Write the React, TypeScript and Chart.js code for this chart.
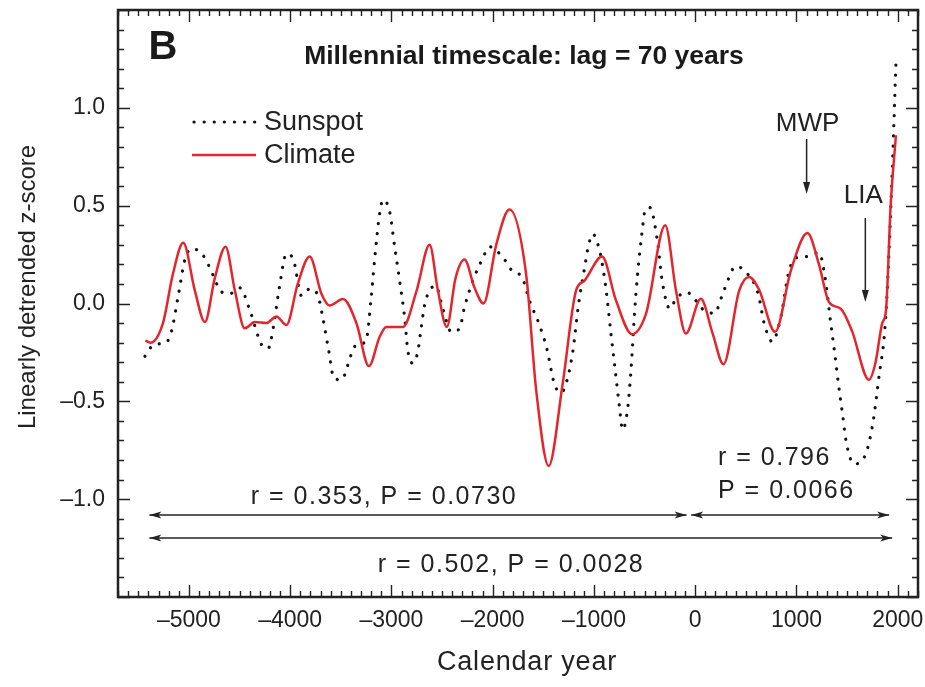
import React, { useEffect, useRef } from 'react';
import { Chart, registerables } from 'chart.js';

Chart.register(...registerables);

// ---------- data ----------
const climateYears = [
  -5430, -5380, -5256, -5158, -5056, -4941, -4842, -4744, -4638, -4546, -4448, -4349, -4234, -4135, -4037,
  -3925, -3807, -3691, -3610, -3478, -3346, -3222, -3116, -3050, -2887, -2751, -2623, -2541, -2453, -2367,
  -2278, -2179, -2091, -1965, -1834, -1670, -1571, -1447, -1309, -1177, -1095, -920, -782, -624, -486,
  -296, -190, -92, 56, 170, 279, 434, 533, 631, 789, 944, 1108, 1222, 1321, 1437, 1548, 1716, 1781, 1847,
  1884, 1930, 1982,
];
const climateValues = [
  -0.19, -0.2, -0.1, 0.15, 0.31, 0.066, -0.095, 0.13, 0.29, 0.066, -0.127, -0.095, -0.1, -0.066, -0.11,
  0.1, 0.24, 0.05, -0.01, 0.023, -0.1, -0.32, -0.17, -0.12, -0.12, 0.066, 0.3, 0.066, -0.12, 0.13,
  0.225, 0.08, 0.0, 0.3, 0.48, 0.15, -0.44, -0.83, -0.41, 0.066, 0.116, 0.24, 0.015, -0.157, -0.052,
  0.4, 0.066, -0.153, 0.024, -0.15, -0.31, 0.066, 0.136, 0.07, -0.145, 0.167, 0.36, 0.2, 0.007, -0.027, -0.14, -0.39, -0.3, -0.1,
  -0.035, 0.5, 0.86,
];

const sunspotYears = [
  -5434, -5345, -5227, -5171, -5105, -5039, -4974, -4865, -4744, -4694, -4596, -4497, -4398, -4283, -4218,
  -4162, -4109, -4036, -3965, -3889, -3807, -3725, -3675, -3616, -3570, -3494, -3396, -3346, -3254, -3198,
  -3166, -3116, -3083, -3018, -2968, -2919, -2870, -2837, -2788, -2739, -2705, -2673, -2623, -2564, -2492,
  -2409, -2327, -2278, -2196, -2104, -2031, -1884, -1808, -1709, -1637, -1538, -1466, -1391, -1325, -1282,
  -1210, -1151, -1095, -1052, -1013, -940, -881, -831, -789, -750, -717, -668, -634, -602, -569,
  -526, -493, -447, -371, -329, -250, -190, -86, 89, 187, 286, 401, 506, 624, 680,
  762, 845, 927, 999, 1098, 1223, 1282, 1338, 1381, 1414, 1453, 1492, 1568, 1683, 1755,
  1808, 1881, 1940, 1982,
];
const sunspotValues = [
  -0.27, -0.21, -0.2, -0.14, 0.04, 0.225, 0.28, 0.25, 0.125, 0.066, 0.05, 0.08, -0.035, -0.21, -0.23,
  -0.11, 0.074, 0.254, 0.22, 0.04, 0.075, 0.04, -0.08, -0.25, -0.38, -0.39, -0.26, -0.21, -0.195, 0.04,
  0.225, 0.46, 0.53, 0.47, 0.29, 0.116, -0.07, -0.245, -0.305, -0.245, -0.12, -0.01, 0.066, 0.09, -0.027,
  -0.145, -0.128, -0.018, 0.116, 0.225, 0.29, 0.225, 0.167, 0.133, 0.015, -0.11, -0.23, -0.41, -0.456, -0.42,
  -0.25, 0.0, 0.175, 0.3, 0.355, 0.26, 0.074, -0.16, -0.347, -0.52, -0.645, -0.54, -0.34, -0.07, 0.15,
  0.36, 0.48, 0.49, 0.31, 0.125, -0.027, 0.024, 0.057, -0.035, -0.05, 0.07, 0.19, 0.158, 0.045, -0.1,
  -0.195, -0.07, 0.167, 0.234, 0.24, 0.26, 0.133, -0.1, -0.27, -0.41, -0.56, -0.71, -0.82, -0.77, -0.61,
  -0.4, -0.07, 0.6, 1.23,
];

const xTickLabels = [-5000, -4000, -3000, -2000, -1000, 0, 1000, 2000];
const yTickLabels = [-1.0, -0.5, 0.0, 0.5, 1.0];
const xLimits = [-5700, 2200];
const yLimits = [-1.5, 1.5];

// annotation spans (years) and text
const fullSpan = [-5390, 1945];
const earlySpan = [-5390, -85];
const lateSpan = [-40, 1915];
const earlyText = 'r = 0.353, P = 0.0730';
const fullText = 'r = 0.502, P = 0.0028';
const lateText = ['r = 0.796', 'P = 0.0066'];
const mwpYear = 1100;
const liaYear = 1680;

const RED = '#e3262d';
const INK = '#222222';
const FONT = "'Liberation Sans', Arial, Helvetica, sans-serif";

const fmt = (v: number, digits: number) => {
  const s = Math.abs(v).toFixed(digits);
  return v < 0 ? '\u2013' + s : s;
};

function arrow(ctx: CanvasRenderingContext2D, x1: number, x2: number, y: number, left: boolean, right: boolean) {
  ctx.beginPath();
  ctx.moveTo(x1, y);
  ctx.lineTo(x2, y);
  ctx.stroke();
  const L = 12, H = 3.5;
  if (left) {
    ctx.beginPath();
    ctx.moveTo(x1, y);
    ctx.lineTo(x1 + L, y - H);
    ctx.lineTo(x1 + L - 3, y);
    ctx.lineTo(x1 + L, y + H);
    ctx.closePath();
    ctx.fill();
  }
  if (right) {
    ctx.beginPath();
    ctx.moveTo(x2, y);
    ctx.lineTo(x2 - L, y - H);
    ctx.lineTo(x2 - L + 3, y);
    ctx.lineTo(x2 - L, y + H);
    ctx.closePath();
    ctx.fill();
  }
}

const decorPlugin = {
  id: 'decor',
  afterDraw(chart: any) {
    const { ctx, chartArea: a, scales } = chart;
    const xs = scales.x;
    const ys = scales.y;
    ctx.save();

    // ticks inward on all four sides
    ctx.strokeStyle = INK;
    ctx.lineWidth = 1.4;
    for (let k = Math.ceil(xLimits[0] / 100); k <= Math.floor(xLimits[1] / 100); k++) {
      const v = k * 100;
      const px = Math.round(xs.getPixelForValue(v)) + 0.5;
      const len = k % 10 === 0 ? 12 : 6;
      ctx.beginPath();
      ctx.moveTo(px, a.bottom);
      ctx.lineTo(px, a.bottom - len);
      ctx.moveTo(px, a.top);
      ctx.lineTo(px, a.top + len);
      ctx.stroke();
    }
    for (let k = Math.round(yLimits[0] * 10); k <= Math.round(yLimits[1] * 10); k++) {
      const v = k / 10;
      const py = Math.round(ys.getPixelForValue(v)) + 0.5;
      const len = k % 5 === 0 ? 12 : 6;
      ctx.beginPath();
      ctx.moveTo(a.left, py);
      ctx.lineTo(a.left + len, py);
      ctx.moveTo(a.right, py);
      ctx.lineTo(a.right - len, py);
      ctx.stroke();
    }
    // frame
    ctx.lineWidth = 2.5;
    ctx.strokeRect(a.left, a.top, a.right - a.left, a.bottom - a.top);

    // panel letter and title
    ctx.fillStyle = '#1a1a1a';
    ctx.textBaseline = 'middle';
    ctx.textAlign = 'center';
    ctx.font = `bold 40px ${FONT}`;
    ctx.fillText('B', 163, 48);
    ctx.font = `bold 26.5px ${FONT}`;
    ctx.fillText('Millennial timescale: lag = 70 years', 524, 57);

    // legend
    ctx.textAlign = 'left';
    ctx.font = `27px ${FONT}`;
    ctx.fillStyle = INK;
    ctx.strokeStyle = '#111';
    ctx.lineWidth = 3.2;
    ctx.lineCap = 'round';
    ctx.setLineDash([0.1, 10]);
    ctx.beginPath();
    ctx.moveTo(194, 122);
    ctx.lineTo(256, 122);
    ctx.stroke();
    ctx.setLineDash([]);
    ctx.lineCap = 'butt';
    ctx.strokeStyle = RED;
    ctx.lineWidth = 2.5;
    ctx.beginPath();
    ctx.moveTo(192, 155);
    ctx.lineTo(256, 155);
    ctx.stroke();
    ctx.fillText('Sunspot', 264, 123);
    ctx.fillText('Climate', 264, 156);

    // MWP / LIA arrows
    ctx.strokeStyle = INK;
    ctx.fillStyle = INK;
    ctx.lineWidth = 1.5;
    ctx.font = `26px ${FONT}`;
    ctx.textAlign = 'center';
    const mx = xs.getPixelForValue(mwpYear);
    ctx.fillText('MWP', mx + 1, 124);
    ctx.beginPath();
    ctx.moveTo(mx, 139);
    ctx.lineTo(mx, 186);
    ctx.stroke();
    ctx.beginPath();
    ctx.moveTo(mx, 194);
    ctx.lineTo(mx - 3.5, 182);
    ctx.lineTo(mx + 3.5, 182);
    ctx.closePath();
    ctx.fill();
    const lx = xs.getPixelForValue(liaYear);
    ctx.fillText('LIA', lx - 2, 196);
    ctx.beginPath();
    ctx.moveTo(lx, 218);
    ctx.lineTo(lx, 295);
    ctx.stroke();
    ctx.beginPath();
    ctx.moveTo(lx, 302);
    ctx.lineTo(lx - 3.5, 290);
    ctx.lineTo(lx + 3.5, 290);
    ctx.closePath();
    ctx.fill();

    // correlation spans
    ctx.lineWidth = 1.5;
    const yA = 515;
    const yB = 538;
    arrow(ctx, xs.getPixelForValue(earlySpan[0]), xs.getPixelForValue(earlySpan[1]), yA, true, true);
    arrow(ctx, xs.getPixelForValue(lateSpan[0]), xs.getPixelForValue(lateSpan[1]), yA, true, true);
    arrow(ctx, xs.getPixelForValue(fullSpan[0]), xs.getPixelForValue(fullSpan[1]), yB, true, true);

    ctx.font = `25px ${FONT}`;
    (ctx as any).letterSpacing = '1.5px';
    ctx.textAlign = 'center';
    ctx.fillText(earlyText, 384, 497);
    ctx.fillText(fullText, 511, 565);
    ctx.textAlign = 'left';
    ctx.fillText(lateText[0], 718, 458);
    ctx.fillText(lateText[1], 718, 491);

    // x-axis title
    ctx.font = `27px ${FONT}`;
    (ctx as any).letterSpacing = '0.8px';
    ctx.textAlign = 'center';
    ctx.fillText('Calendar year', 527, 663);
    (ctx as any).letterSpacing = '0px';

    // y-axis title
    ctx.save();
    ctx.translate(28, 287);
    ctx.rotate(-Math.PI / 2);
    ctx.font = `24px ${FONT}`;
    ctx.textAlign = 'center';
    ctx.fillText('Linearly detrended z-score', 0, 0);
    ctx.restore();

    ctx.restore();
  },
};

export default function App() {
  const canvasRef = useRef<HTMLCanvasElement | null>(null);

  useEffect(() => {
    const canvas = canvasRef.current;
    if (!canvas) return;
    const chart = new Chart(canvas, {
      type: 'line',
      data: {
        datasets: [
          {
            label: 'Climate',
            data: climateYears.map((x, i) => ({ x, y: climateValues[i] })),
            borderColor: RED,
            borderWidth: 2.5,
            pointRadius: 0,
            fill: false,
            cubicInterpolationMode: 'monotone',
          },
          {
            label: 'Sunspot',
            data: sunspotYears.map((x, i) => ({ x, y: sunspotValues[i] })),
            borderColor: '#111111',
            borderWidth: 3.2,
            borderDash: [0.1, 10],
            borderCapStyle: 'round',
            pointRadius: 0,
            fill: false,
            cubicInterpolationMode: 'monotone',
          },
        ],
      },
      options: {
        responsive: false,
        animation: false,
        events: [],
        layout: { padding: { top: 10, right: 7, left: 0, bottom: 0 } },
        plugins: { legend: { display: false }, tooltip: { enabled: false } },
        scales: {
          x: {
            type: 'linear',
            min: xLimits[0],
            max: xLimits[1],
            grid: { display: false, drawTicks: false },
            border: { display: false },
            afterBuildTicks: (scale: any) => {
              scale.ticks = xTickLabels.map((value) => ({ value }));
            },
            afterFit: (scale: any) => {
              scale.height = 90;
              scale.paddingLeft = 0;
              scale.paddingRight = 0;
            },
            ticks: {
              autoSkip: false,
              maxRotation: 0,
              padding: 10,
              color: INK,
              font: { family: FONT, size: 23 },
              callback: (v: any) => fmt(Number(v), 0),
            },
            title: { display: false },
          },
          y: {
            type: 'linear',
            min: yLimits[0],
            max: yLimits[1],
            grid: { display: false, drawTicks: false },
            border: { display: false },
            afterBuildTicks: (scale: any) => {
              scale.ticks = yTickLabels.map((value) => ({ value }));
            },
            afterFit: (scale: any) => {
              scale.width = 118;
              scale.paddingTop = 0;
              scale.paddingBottom = 0;
            },
            ticks: {
              autoSkip: false,
              padding: 13,
              color: INK,
              font: { family: FONT, size: 23 },
              callback: (v: any) => fmt(Number(v), 1),
            },
            title: { display: false },
          },
        },
      },
      plugins: [decorPlugin],
    } as any);
    return () => chart.destroy();
  }, []);

  return (
    <div style={{ position: 'fixed', left: 0, top: 0, width: 925, height: 687, background: '#fff' }}>
      <canvas ref={canvasRef} width={925} height={687} style={{ display: 'block' }} />
    </div>
  );
}
